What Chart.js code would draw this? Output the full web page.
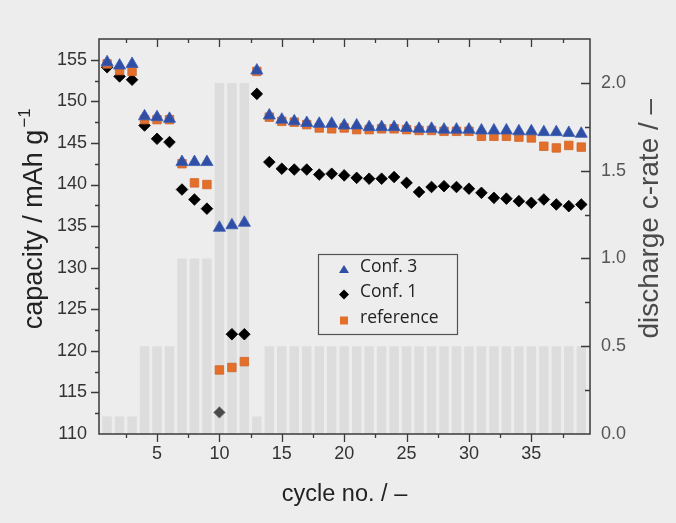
<!DOCTYPE html>
<html>
<head>
    <title>capacity vs cycle</title>
    <script src="https://cdn.jsdelivr.net/npm/chart.js"></script>
    <style>
        html, body {
            margin: 0;
            padding: 0;
            background-color: #ededed;
        }
        .wrap {
            position: relative;
            width: 676px;
            height: 523px;
        }
    </style>
</head>
<body>
    <div class="wrap">
        <canvas id="rateChart" width="676" height="523"></canvas>
    </div>

    <script>
        // cycle numbers
        var cycles = [1, 2, 3, 4, 5, 6, 7, 8, 9, 10, 11, 12, 13, 14, 15, 16, 17, 18, 19, 20,
            21, 22, 23, 24, 25, 26, 27, 28, 29, 30, 31, 32, 33, 34, 35, 36, 37, 38, 39];

        // capacity / mAh g-1
        var conf3 = [154.7, 154.3, 154.5, 148.2, 148.1, 147.9, 142.7, 142.7, 142.7, 134.8, 135.1, 135.4, 153.7,
            148.3, 147.8, 147.6, 147.4, 147.3, 147.3, 147.1, 147.1, 146.9, 146.9, 146.9, 146.8, 146.7,
            146.7, 146.6, 146.6, 146.6, 146.5, 146.5, 146.5, 146.4, 146.4, 146.3, 146.3, 146.2, 146.1];
        var conf1 = [154.1, 153.0, 152.6, 147.1, 145.5, 145.1, 139.4, 138.2, 137.1, 112.6, 122.0, 122.0, 150.9,
            142.7, 141.9, 141.8, 141.8, 141.2, 141.3, 141.1, 140.8, 140.7, 140.7, 140.9, 140.2, 139.1,
            139.7, 139.8, 139.7, 139.5, 139.0, 138.4, 138.3, 138.0, 137.8, 138.2, 137.6, 137.4, 137.6];
        var reference = [154.5, 153.7, 153.6, 147.8, 147.8, 147.8, 142.5, 140.2, 140.0, 117.7, 118.0, 118.7, 153.6,
            148.1, 147.6, 147.5, 147.2, 146.8, 146.7, 146.8, 146.6, 146.6, 146.7, 146.7, 146.6, 146.5,
            146.5, 146.4, 146.4, 146.4, 145.8, 145.8, 145.8, 145.7, 145.6, 144.6, 144.4, 144.7, 144.5];

        // discharge c-rate per cycle
        var cRate = [0.1, 0.1, 0.1, 0.5, 0.5, 0.5, 1.0, 1.0, 1.0, 2.0, 2.0, 2.0, 0.1,
            0.5, 0.5, 0.5, 0.5, 0.5, 0.5, 0.5, 0.5, 0.5, 0.5, 0.5, 0.5, 0.5,
            0.5, 0.5, 0.5, 0.5, 0.5, 0.5, 0.5, 0.5, 0.5, 0.5, 0.5, 0.5, 0.5];

        // tick labels
        var cycleTicks = [5, 10, 15, 20, 25, 30, 35];
        var capTicks = [110, 115, 120, 125, 130, 135, 140, 145, 150, 155];
        var rateTicks = [0, 0.5, 1.0, 1.5, 2.0];

        var tickFont = 'Liberation Sans, Arial, sans-serif';
        var bgColor = '#ededed';

        function toPoints(values) {
            return cycles.map(function (c, i) { return { x: c, y: values[i] }; });
        }

        // 外框、刻度、y 軸標題與圖例
        var framePlugin = {
            id: 'frame',
            beforeDraw: function (chart) {
                var ctx = chart.ctx;
                ctx.save();
                ctx.fillStyle = bgColor;
                ctx.fillRect(0, 0, chart.width, chart.height);
                ctx.restore();
            },
            afterDatasetsDraw: function (chart) {
                var ctx = chart.ctx;
                var a = chart.chartArea;
                var sx = chart.scales.x, sy = chart.scales.y, sr = chart.scales.y2;
                ctx.save();
                ctx.strokeStyle = '#3a3a3a';
                ctx.lineWidth = 1.5;
                ctx.strokeRect(a.left, a.top, a.right - a.left, a.bottom - a.top);
                ctx.beginPath();
                var v, p, len;
                // top / right ticks point inward, bottom / left outward
                for (v = 2.5; v < sx.max; v += 2.5) {
                    p = Math.round(sx.getPixelForValue(v)) + 0.5;
                    len = (v % 5 === 0) ? 8 : 4;
                    ctx.moveTo(p, a.bottom); ctx.lineTo(p, a.bottom + len);
                    ctx.moveTo(p, a.top); ctx.lineTo(p, a.top + len);
                }
                for (v = 112.5; v < sy.max; v += 2.5) {
                    p = Math.round(sy.getPixelForValue(v)) + 0.5;
                    len = (v % 5 === 0) ? 8 : 4;
                    ctx.moveTo(a.left, p); ctx.lineTo(a.left - len, p);
                }
                for (v = 0.25; v < sr.max; v += 0.25) {
                    p = Math.round(sr.getPixelForValue(v)) + 0.5;
                    len = (Math.abs(v * 2 - Math.round(v * 2)) < 1e-6) ? 9 : 5;
                    ctx.moveTo(a.right, p); ctx.lineTo(a.right - len, p);
                }
                ctx.lineWidth = 1.3;
                ctx.stroke();
                ctx.restore();
            },
            afterDraw: function (chart) {
                var ctx = chart.ctx;
                var a = chart.chartArea;
                var midY = a.top + (a.bottom - a.top) * 0.455;

                // y 軸標題 (both read bottom to top)
                ctx.save();
                ctx.translate(35, midY);
                ctx.rotate(-Math.PI / 2);
                ctx.textBaseline = 'middle';
                ctx.textAlign = 'left';
                ctx.fillStyle = '#222';
                var mainTxt = 'capacity / mAh g';
                var supTxt = '\u22121';
                ctx.font = '27px ' + tickFont;
                var w1 = ctx.measureText(mainTxt).width;
                ctx.font = '17px ' + tickFont;
                var w2 = ctx.measureText(supTxt).width;
                var x0 = -(w1 + w2 + 2) / 2;
                ctx.font = '27px ' + tickFont;
                ctx.fillText(mainTxt, x0, 0);
                ctx.font = '17px ' + tickFont;
                ctx.fillText(supTxt, x0 + w1 + 2, -10);
                ctx.restore();

                ctx.save();
                ctx.translate(650, midY);
                ctx.rotate(-Math.PI / 2);
                ctx.textBaseline = 'middle';
                ctx.textAlign = 'center';
                ctx.fillStyle = '#4a4a4a';
                ctx.font = '28px ' + tickFont;
                ctx.fillText('discharge c-rate / \u2013', 0, 0);
                ctx.restore();

                // 圖例
                var bx = a.left + 219, by = a.top + 215, bw = 139, bh = 80;
                ctx.save();
                ctx.fillStyle = bgColor;
                ctx.fillRect(bx, by, bw, bh);
                ctx.strokeStyle = '#555';
                ctx.lineWidth = 1.2;
                ctx.strokeRect(bx + 0.5, by + 0.5, bw, bh);

                var items = [
                    { text: 'Conf. 3', shape: 'triangle', color: '#2f4fa6' },
                    { text: 'Conf. 1', shape: 'diamond', color: '#000000' },
                    { text: 'reference', shape: 'square', color: '#e36f2a' }
                ];
                ctx.font = '17.5px "Open Sans", sans-serif';
                ctx.textBaseline = 'middle';
                items.forEach(function (it, i) {
                    var cx = bx + 26, cy = by + 15 + i * 25.5;
                    ctx.fillStyle = it.color;
                    ctx.beginPath();
                    if (it.shape === 'triangle') {
                        ctx.moveTo(cx, cy - 4); ctx.lineTo(cx + 5, cy + 4); ctx.lineTo(cx - 5, cy + 4);
                    } else if (it.shape === 'diamond') {
                        ctx.moveTo(cx, cy - 5); ctx.lineTo(cx + 5, cy); ctx.lineTo(cx, cy + 5); ctx.lineTo(cx - 5, cy);
                    } else {
                        ctx.rect(cx - 4, cy - 3.5, 8, 8);
                    }
                    ctx.closePath();
                    ctx.fill();
                    ctx.fillStyle = '#222';
                    ctx.fillText(it.text, bx + 42, cy - 2);
                });
                ctx.restore();
            }
        };

        var ctx = document.getElementById('rateChart').getContext('2d');
        var rateChart = new Chart(ctx, {
            type: 'scatter',
            data: {
                datasets: [{
                    label: 'Conf. 3',
                    data: toPoints(conf3),
                    yAxisID: 'y',
                    pointStyle: 'triangle',
                    pointRadius: 7,
                    backgroundColor: '#2f4fa6',
                    borderColor: '#3d5db3',
                    borderWidth: 0.8,
                    order: 1
                }, {
                    label: 'Conf. 1',
                    data: toPoints(conf1),
                    yAxisID: 'y',
                    pointStyle: 'rectRot',
                    pointRadius: 5.8,
                    backgroundColor: function (c) { return c.dataIndex === 9 ? '#4a4a4a' : '#000000'; },
                    borderColor: function (c) { return c.dataIndex === 9 ? '#8a8a8a' : '#000000'; },
                    borderWidth: 0.8,
                    order: 3
                }, {
                    label: 'reference',
                    data: toPoints(reference),
                    yAxisID: 'y',
                    pointStyle: 'rect',
                    pointRadius: 6,
                    backgroundColor: '#e36f2a',
                    borderColor: '#d0652a',
                    borderWidth: 0.8,
                    order: 2
                }, {
                    type: 'bar',
                    label: 'discharge c-rate',
                    data: toPoints(cRate),
                    yAxisID: 'y2',
                    backgroundColor: '#dcdddc',
                    barPercentage: 0.76,
                    categoryPercentage: 1.0,
                    order: 4
                }]
            },
            options: {
                responsive: false,
                animation: false,
                layout: { padding: { top: 39, left: 0, right: 0, bottom: 0 } },
                plugins: {
                    legend: { display: false },
                    tooltip: { enabled: false }
                },
                scales: {
                    x: {
                        type: 'linear',
                        offset: false,
                        min: 0.35,
                        max: 39.7,
                        afterBuildTicks: function (s) { s.ticks = cycleTicks.map(function (v) { return { value: v }; }); },
                        afterFit: function (s) { s.height = 89; },
                        grid: { display: false, drawTicks: false, offset: false },
                        border: { display: false },
                        ticks: { font: { family: tickFont, size: 18 }, color: '#333', padding: 9, maxRotation: 0 },
                        title: {
                            display: true,
                            text: 'cycle no. / –',
                            font: { family: tickFont, size: 23.5 },
                            color: '#222',
                            padding: { top: 0, bottom: 14 }
                        }
                    },
                    y: {
                        position: 'left',
                        min: 110,
                        max: 157.5,
                        afterBuildTicks: function (s) { s.ticks = capTicks.map(function (v) { return { value: v }; }); },
                        afterFit: function (s) { s.width = 99; },
                        grid: { display: false, drawTicks: false },
                        border: { display: false },
                        ticks: { font: { family: tickFont, size: 18 }, color: '#333', padding: 12 },
                        title: { display: false, text: 'capacity / mAh g⁻¹' }
                    },
                    y2: {
                        position: 'right',
                        min: 0,
                        max: 2.25,
                        afterBuildTicks: function (s) { s.ticks = rateTicks.map(function (v) { return { value: v }; }); },
                        afterFit: function (s) { s.width = 86; },
                        grid: { display: false, drawTicks: false },
                        border: { display: false },
                        ticks: {
                            font: { family: tickFont, size: 18 },
                            color: '#555',
                            padding: 11,
                            callback: function (v) { return Number(v).toFixed(1); }
                        },
                        title: { display: false, text: 'discharge c-rate / –' }
                    }
                }
            },
            plugins: [framePlugin]
        });
    </script>
</body>
</html>
